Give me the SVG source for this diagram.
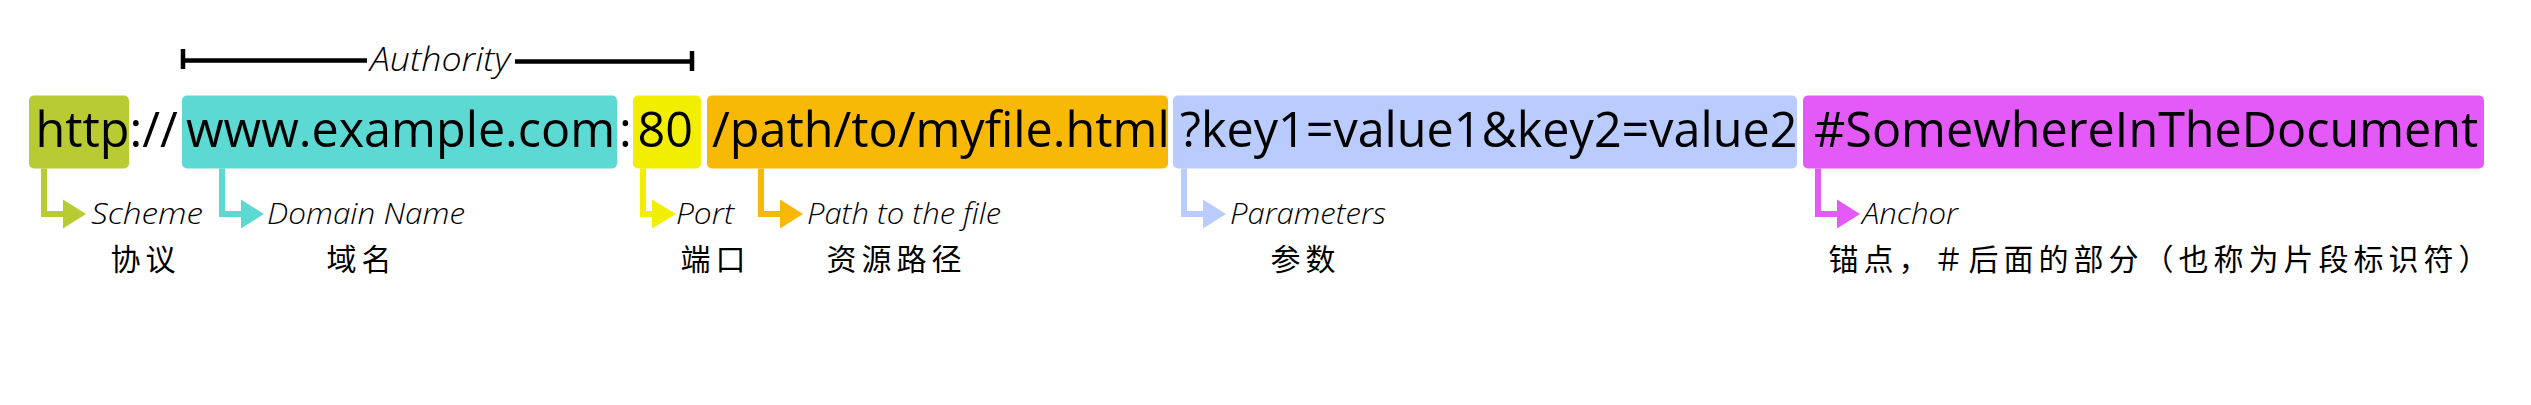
<svg xmlns="http://www.w3.org/2000/svg" width="2531" height="405" viewBox="0 0 2531 405">
<style>
.url{font-family:"Open Sans","Liberation Sans",sans-serif;font-size:48.5px;fill:#000}
.lbl{font-family:"Open Sans","Liberation Sans",sans-serif;font-size:30px;font-style:italic;font-weight:300;fill:#000}
.zh{font-family:"Noto Sans CJK SC",sans-serif;font-size:30px;letter-spacing:5px;fill:#000}
.box{stroke:none}
.con{fill:none;stroke-width:6;stroke-linejoin:miter}
</style>
<rect width="2531" height="405" fill="#fff"/>
<g id="authority">
<path d="M183 49V69M183 60.5H367M515 61.5H692M692 51V71" stroke="#000" stroke-width="4.5" fill="none"/>
<text class="lbl" x="370" y="71" style="font-size:33px" textLength="140" lengthAdjust="spacingAndGlyphs">Authority</text>
</g>
<g id="scheme">
<rect class="box" x="29" y="95.5" width="100" height="73" rx="5" fill="#B8CB32"/>
<text class="url" x="35.5" y="147">http://</text>
<text class="lbl" x="91" y="224" textLength="112" lengthAdjust="spacingAndGlyphs">Scheme</text>
<text class="zh" x="110.5" y="270">协议</text>
</g>
<g id="domain">
<rect class="box" x="182" y="95.5" width="435" height="73" rx="5" fill="#5DD9D4"/>
<text class="url" x="186" y="147">www.example.com</text>
<text class="url" x="619" y="147">:</text>
<text class="lbl" x="267" y="224" textLength="198" lengthAdjust="spacingAndGlyphs">Domain Name</text>
<text class="zh" x="326.5" y="270">域名</text>
</g>
<g id="port">
<rect class="box" x="633" y="95.5" width="68" height="73" rx="5" fill="#F1EE00"/>
<text class="url" x="637.5" y="147">80</text>
<text class="lbl" x="676" y="224" textLength="58" lengthAdjust="spacingAndGlyphs">Port</text>
<text class="zh" x="680.5" y="270">端口</text>
</g>
<g id="path">
<rect class="box" x="707" y="95.5" width="461" height="73" rx="5" fill="#F7B906"/>
<text class="url" x="712" y="147">/path/to/myfile.html</text>
<text class="lbl" x="807" y="224" textLength="194" lengthAdjust="spacingAndGlyphs">Path to the file</text>
<text class="zh" x="826.5" y="270">资源路径</text>
</g>
<g id="parameters">
<rect class="box" x="1173" y="95.5" width="624" height="73" rx="5" fill="#BACCFD"/>
<text class="url" x="1180" y="147">?key1=value1&amp;key2=value2</text>
<text class="lbl" x="1230" y="224" textLength="156" lengthAdjust="spacingAndGlyphs">Parameters</text>
<text class="zh" x="1270.5" y="270">参数</text>
</g>
<g id="anchor">
<rect class="box" x="1803" y="95.5" width="681" height="73" rx="5" fill="#E35AF9"/>
<text class="url" x="1814" y="147">#SomewhereInTheDocument</text>
<text class="lbl" x="1862" y="224" textLength="96" lengthAdjust="spacingAndGlyphs">Anchor</text>
<text class="zh" x="1828.5" y="270">锚点，＃后面的部分（也称为片段标识符）</text>
</g>
<g id="connectors">
<path class="con" d="M44 168.5V214H64" stroke="#B8CB32"/>
<polygon points="63,199.5 86,214 63,228.5" fill="#B8CB32"/>
<path class="con" d="M222 168.5V214H242" stroke="#5DD9D4"/>
<polygon points="241,199.5 264,214 241,228.5" fill="#5DD9D4"/>
<path class="con" d="M643 168.5V214H653" stroke="#F1EE00"/>
<polygon points="652,199.5 676,214 652,228.5" fill="#F1EE00"/>
<path class="con" d="M761 168.5V214H781" stroke="#F7B906"/>
<polygon points="780,199.5 803,214 780,228.5" fill="#F7B906"/>
<path class="con" d="M1184 168.5V214H1204" stroke="#BACCFD"/>
<polygon points="1203,199.5 1226,214 1203,228.5" fill="#BACCFD"/>
<path class="con" d="M1818 168.5V214H1838" stroke="#E35AF9"/>
<polygon points="1837,199.5 1860,214 1837,228.5" fill="#E35AF9"/>
</g>
</svg>
